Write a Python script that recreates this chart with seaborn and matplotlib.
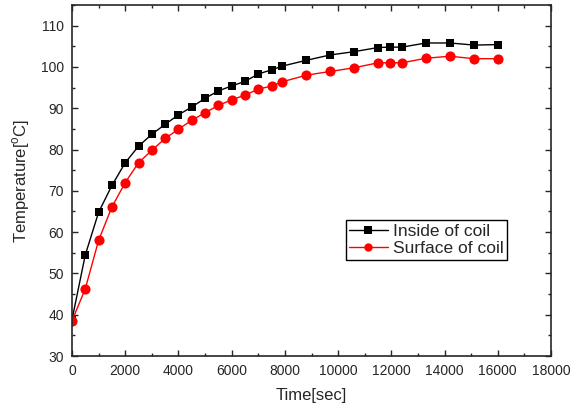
import pandas as pd
import seaborn as sns
import matplotlib.pyplot as plt
from matplotlib.ticker import MultipleLocator

# values
time_sec = [0, 500, 1000, 1500, 2000, 2500, 3000, 3500, 4000, 4500, 5000,
            5500, 6000, 6500, 7000, 7500, 7900, 8800, 9700, 10600, 11500,
            11950, 12400, 13300, 14200, 15100, 16000]
inside_coil = [38.8, 54.5, 64.8, 71.3, 76.8, 80.8, 83.7, 86.1, 88.4, 90.3, 92.4,
               94.2, 95.4, 96.5, 98.3, 99.3, 100.2, 101.6, 102.9, 103.7, 104.7,
               104.8, 104.8, 105.8, 105.8, 105.3, 105.4]
surface_coil = [38.5, 46.3, 58.0, 66.1, 72.0, 76.8, 79.8, 82.7, 84.9, 87.1, 88.9,
                90.7, 92.0, 93.2, 94.6, 95.4, 96.4, 98.0, 98.9, 99.8, 101.0,
                101.0, 101.0, 102.1, 102.6, 102.0, 102.0]
series_names = ['Inside of coil', 'Surface of coil']

df = pd.DataFrame({
    'Time': time_sec * 2,
    'Temperature': inside_coil + surface_coil,
    'Series': [series_names[0]] * len(time_sec) + [series_names[1]] * len(time_sec),
})

sns.set_style('ticks')
plt.rcParams['font.family'] = ['Liberation Sans', 'DejaVu Sans']
plt.rcParams['mathtext.fontset'] = 'custom'
plt.rcParams['mathtext.rm'] = 'Liberation Sans'

fig = plt.figure(figsize=(5.79, 4.11), dpi=100)
ax = fig.add_axes([72 / 579, 1 - 356 / 411, (551 - 72) / 579, (356 - 5) / 411])

sns.lineplot(data=df, x='Time', y='Temperature', hue='Series', style='Series',
             palette={series_names[0]: 'black', series_names[1]: 'red'},
             markers={series_names[0]: 's', series_names[1]: 'o'},
             dashes=False, linewidth=1, markeredgewidth=0, ax=ax)
for line, ms in zip(ax.lines, [6.3, 7.3]):
    line.set_markersize(ms)

ax.set_xlim(0, 18000)
ax.set_ylim(30, 115)
ax.xaxis.set_major_locator(MultipleLocator(2000))
ax.xaxis.set_minor_locator(MultipleLocator(1000))
ax.yaxis.set_major_locator(MultipleLocator(10))
ax.yaxis.set_minor_locator(MultipleLocator(5))
ax.tick_params(which='both', direction='in', top=True, right=True, labelsize=10, width=1)
ax.tick_params(which='major', length=4.5, pad=6)
ax.tick_params(which='minor', length=2.5)
for s in ax.spines.values():
    s.set_linewidth(1.2)

ax.set_xlabel('Time[sec]', fontsize=12, labelpad=7)
ax.set_ylabel(r'Temperature[$^\mathregular{o}$C]', fontsize=12, labelpad=6)

handles, labels = ax.get_legend_handles_labels()
ax.legend(handles, labels, loc='upper right', bbox_to_anchor=((507 - 72) / 479, (356 - 220) / 351),
          fontsize=12.5, frameon=True, fancybox=False, edgecolor='black', framealpha=1,
          handlelength=2.2, handletextpad=0.3, borderpad=0.2, labelspacing=0.15,
          borderaxespad=0)

fig.savefig('out.png', dpi=100)
